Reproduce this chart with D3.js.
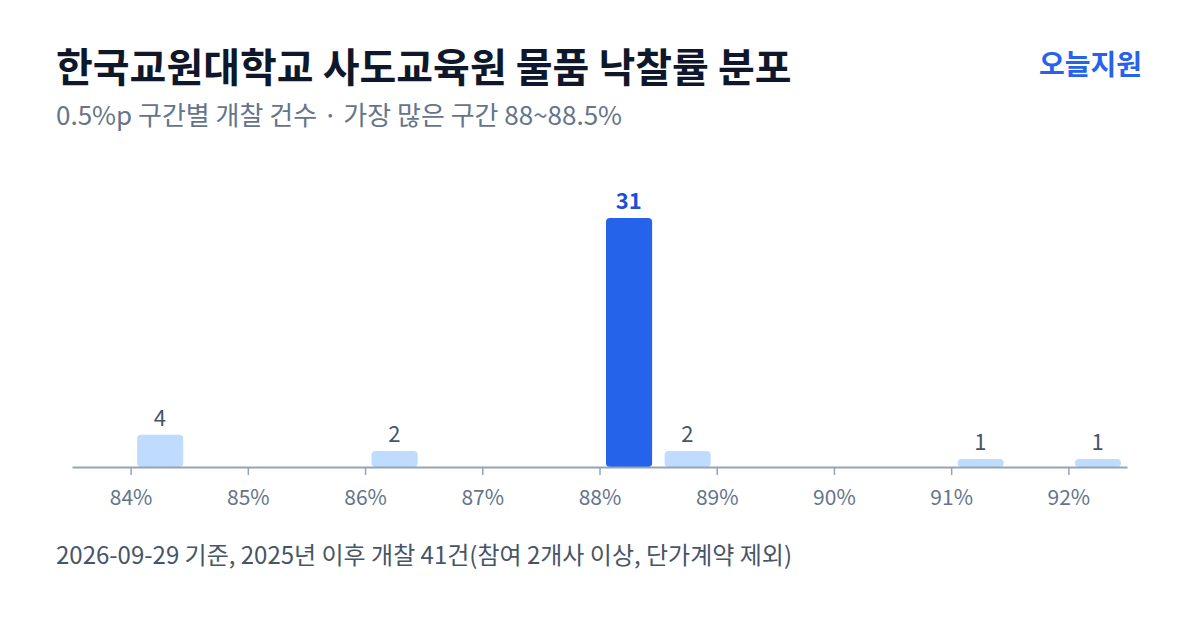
<!DOCTYPE html>
<html>
<head>
<meta charset="utf-8">
<script src="https://cdn.jsdelivr.net/npm/d3@7"></script>
<style>
  html, body { margin: 0; padding: 0; background: #fff; }
  svg { display: block; font-family: "Noto Sans CJK KR", "Noto Sans", sans-serif; }
</style>
</head>
<body>
<svg id="svgId"></svg>
<script>
// 구간 시작값(%) 과 건수
var binStarts = [84, 86, 88, 88.5, 91, 92];
var counts = [4, 2, 31, 2, 1, 1];
var binWidth = 0.5;
var tickValues = [84, 85, 86, 87, 88, 89, 90, 91, 92];
var topBin = 88;

var titleText = "한국교원대학교 사도교육원 물품 낙찰률 분포";
var subText = "0.5%p 구간별 개찰 건수 · 가장 많은 구간 88~88.5%";
var brandText = "오늘지원";
var footText = "2026-09-29 기준, 2025년 이후 개찰 41건(참여 2개사 이상, 단가계약 제외)";

var data = binStarts.map(function (d, i) { return { lo: d, n: counts[i] }; });

var svgWidth = 1200, svgHeight = 630;
var svg = d3.select("#svgId")
    .attr("width", svgWidth)
    .attr("height", svgHeight);

// 제목
svg.append("text")
    .attr("x", 56).attr("y", 82)
    .attr("font-size", 40).attr("font-weight", 700)
    .attr("fill", "#0f172a")
    .text(titleText);

svg.append("text")
    .attr("x", 56).attr("y", 125)
    .attr("font-size", 26)
    .attr("fill", "#64748b")
    .text(subText);

svg.append("text")
    .attr("x", 1142).attr("y", 75)
    .attr("text-anchor", "end")
    .attr("font-size", 28).attr("font-weight", 700)
    .attr("fill", "#2563eb")
    .text(brandText);

// 스케일
var x = d3.scaleLinear().domain([83.5, 92.5]).range([72, 1127]);
var y = d3.scaleLinear().domain([0, 31]).range([467, 218]);

// 막대
svg.append("g").selectAll("rect")
    .data(data)
    .enter().append("rect")
    .attr("x", function (d) { return x(d.lo) + 6.5; })
    .attr("width", function (d) { return x(d.lo + binWidth) - x(d.lo) - 12.5; })
    .attr("y", function (d) { return y(d.n); })
    .attr("height", function (d) { return y(0) - y(d.n); })
    .attr("rx", 4)
    .attr("fill", function (d) { return d.lo === topBin ? "#2563eb" : "#bfdbfe"; });

// 값 라벨
svg.append("g").selectAll("text")
    .data(data)
    .enter().append("text")
    .attr("x", function (d) { return (x(d.lo) + x(d.lo + binWidth)) / 2; })
    .attr("y", function (d) { return y(d.n) - 9; })
    .attr("text-anchor", "middle")
    .attr("font-size", 22)
    .attr("font-weight", function (d) { return d.lo === topBin ? 700 : 400; })
    .attr("fill", function (d) { return d.lo === topBin ? "#1d4ed8" : "#475569"; })
    .text(function (d) { return d.n; });

// x축
var xAxis = svg.append("g")
    .attr("transform", "translate(0," + y(0) + ")")
    .call(d3.axisBottom(x)
        .tickValues(tickValues)
        .tickFormat(function (d) { return d + "%"; })
        .tickSize(8)
        .tickPadding(15)
        .tickSizeOuter(0));

xAxis.select(".domain").attr("stroke", "#94a3b8").attr("stroke-width", 2);
xAxis.selectAll(".tick line").attr("stroke", "#94a3b8").attr("stroke-width", 1.5);
xAxis.selectAll(".tick text")
    .attr("fill", "#64748b")
    .attr("font-size", 21)
    .attr("font-family", "\"Noto Sans CJK KR\", \"Noto Sans\", sans-serif");

// 하단 주석
svg.append("text")
    .attr("x", 56).attr("y", 564)
    .attr("font-size", 24)
    .attr("fill", "#475569")
    .text(footText);
</script>
</body>
</html>
